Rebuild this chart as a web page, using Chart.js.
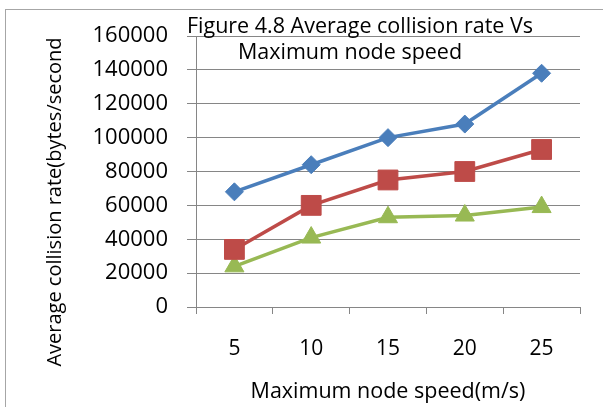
<!DOCTYPE html>
<html>
<head>
<meta charset="utf-8">
<script src="https://cdn.jsdelivr.net/npm/chart.js@4"></script>
<style>
  html, body { margin: 0; padding: 0; background: #fff; }
  #wrap { position: relative; width: 603px; height: 407px; }
</style>
</head>
<body>
<div id="wrap"><canvas id="chart" width="603" height="407"></canvas></div>
<script>
'use strict';

// Chart data
const speeds     = ['5', '10', '15', '20', '25'];
const seriesBlue  = [68000, 84000, 100000, 108000, 138000];
const seriesRed   = [34000, 60000, 75000, 80000, 93000];
const seriesGreen = [24000, 41000, 53000, 54000, 59000];
const titleLines = ['Figure 4.8 Average collision rate Vs', 'Maximum node speed'];
const yTitle = 'Average collision rate(bytes/second';
const xTitle = 'Maximum node speed(m/s)';

const FONT = '"Open Sans", sans-serif';
const GRID = '#868686';

// Frame, chart title and rotated y title (they overlap the plot like the original)
const decor = {
  id: 'decor',
  beforeDraw(chart) {
    const c = chart.ctx;
    c.save();
    c.strokeStyle = '#a6a6a6';
    c.lineWidth = 1;
    c.strokeRect(5.5, 9.5, 700, 500);
    c.restore();
  },
  afterDraw(chart) {
    const c = chart.ctx;
    c.save();
    c.fillStyle = '#000';
    c.textAlign = 'center';
    c.textBaseline = 'middle';
    c.font = `21.5px ${FONT}`;
    c.fillText(titleLines[0], 360, 27);
    c.fillText(titleLines[1], 350, 53);

    c.font = `20px ${FONT}`;
    c.translate(55, 202);
    c.rotate(-Math.PI / 2);
    c.fillText(yTitle, 0, 0);
    c.restore();
  },
};

new Chart(document.getElementById('chart'), {
  type: 'line',
  data: {
    labels: speeds,
    datasets: [
      {
        data: seriesBlue,
        borderColor: '#4a7ebb',
        backgroundColor: '#4a7ebb',
        borderWidth: 3.5,
        pointStyle: 'rectRot',
        pointRadius: 9,
        pointBorderWidth: 1,
      },
      {
        data: seriesRed,
        borderColor: '#be4b48',
        backgroundColor: '#be4b48',
        borderWidth: 3.5,
        pointStyle: 'rect',
        pointRadius: 14,
        pointBorderWidth: 1,
      },
      {
        data: seriesGreen,
        borderColor: '#98b954',
        backgroundColor: '#98b954',
        borderWidth: 3.5,
        pointStyle: 'triangle',
        pointRadius: 11,
        pointBorderWidth: 1,
      },
    ],
  },
  options: {
    responsive: false,
    animation: false,
    layout: { padding: { top: 36, right: 23, bottom: 0, left: 0 } },
    plugins: {
      legend: { display: false },
      tooltip: { enabled: false },
    },
    scales: {
      x: {
        offset: true,
        grid: {
          offset: true,
          drawOnChartArea: false,
          color: GRID,
          tickLength: 7,
        },
        border: { color: GRID },
        ticks: { color: '#000', padding: 22, font: { family: FONT, size: 21 } },
        title: {
          display: true,
          text: xTitle,
          color: '#000',
          font: { family: FONT, size: 21.5 },
          padding: { top: 0, bottom: 2 },
        },
        afterFit(scale) { scale.height = 100; },
      },
      y: {
        min: 0,
        max: 160000,
        ticks: {
          stepSize: 20000,
          color: '#000',
          padding: 19,
          font: { family: FONT, size: 22 },
          callback: v => String(v),
        },
        grid: { color: GRID, tickLength: 9 },
        border: { color: GRID },
        afterFit(scale) { scale.width = 196; },
      },
    },
  },
  plugins: [decor],
});
</script>
</body>
</html>
